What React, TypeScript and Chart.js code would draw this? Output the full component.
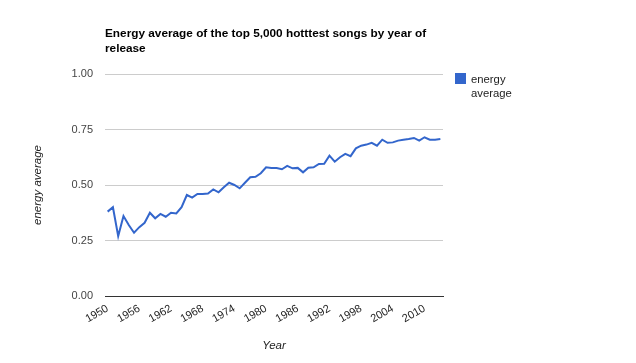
import React, { useEffect, useRef } from "react";
import { Chart, registerables } from "chart.js";

Chart.register(...registerables);

const years: string[] = [
  "1950","1951","1952","1953","1954","1955","1956","1957","1958","1959",
  "1960","1961","1962","1963","1964","1965","1966","1967","1968","1969",
  "1970","1971","1972","1973","1974","1975","1976","1977","1978","1979",
  "1980","1981","1982","1983","1984","1985","1986","1987","1988","1989",
  "1990","1991","1992","1993","1994","1995","1996","1997","1998","1999",
  "2000","2001","2002","2003","2004","2005","2006","2007","2008","2009",
  "2010","2011","2012","2013",
];

const energyAverage: number[] = [
  0.38, 0.40, 0.27, 0.36, 0.32, 0.285, 0.31, 0.33, 0.375, 0.35,
  0.37, 0.357, 0.375, 0.372, 0.40, 0.455, 0.443, 0.46, 0.46, 0.462,
  0.48, 0.467, 0.49, 0.51, 0.50, 0.485, 0.51, 0.535, 0.537, 0.553,
  0.58, 0.577, 0.577, 0.571, 0.586, 0.575, 0.577, 0.557, 0.578, 0.58,
  0.595, 0.596, 0.632, 0.605, 0.625, 0.64, 0.63, 0.665, 0.677, 0.682,
  0.69, 0.677, 0.704, 0.69, 0.692, 0.70, 0.704, 0.707, 0.712, 0.70,
  0.715, 0.704, 0.704, 0.707,
];

const yTicks: number[] = [0, 0.25, 0.5, 0.75, 1];
const titleLines: string[] = ["Energy average of the top 5,000 hotttest songs by year of", "release"];
const legendLines: string[] = ["energy", "average"];
const xTitle = "Year";
const yTitle = "energy average";

const FONT = "Arial, 'Liberation Sans', sans-serif";
const LINE_COLOR = "#3366cc";

const textPlugin = {
  id: "customText",
  afterDraw(chart: any) {
    const ctx = chart.ctx as CanvasRenderingContext2D;
    const area = chart.chartArea;
    ctx.save();
    // Title
    ctx.fillStyle = "#000";
    ctx.font = `bold 11.8px ${FONT}`;
    ctx.textAlign = "left";
    ctx.textBaseline = "alphabetic";
    titleLines.forEach((l, i) => ctx.fillText(l, area.left, 37 + i * 15));
    // Legend
    ctx.fillStyle = LINE_COLOR;
    ctx.fillRect(455, 73, 11, 11);
    ctx.fillStyle = "#222";
    ctx.font = `11.3px ${FONT}`;
    legendLines.forEach((l, i) => ctx.fillText(l, 471, 83 + i * 14));
    // X title
    ctx.font = `italic 11.5px ${FONT}`;
    ctx.textAlign = "center";
    ctx.textBaseline = "middle";
    ctx.fillText(xTitle, (area.left + area.right) / 2, 346);
    // Y title
    ctx.translate(38, (area.top + area.bottom) / 2);
    ctx.rotate(-Math.PI / 2);
    ctx.fillText(yTitle, 0, 0);
    ctx.restore();
  },
};

export default function App() {
  const ref = useRef<HTMLCanvasElement | null>(null);
  useEffect(() => {
    document.body.style.margin = "0";
    const canvas = ref.current!;
    const chart = new Chart(canvas, {
      type: "line",
      data: {
        labels: years,
        datasets: [
          {
            label: "energy average",
            data: energyAverage,
            borderColor: LINE_COLOR,
            backgroundColor: LINE_COLOR,
            borderWidth: 2,
            pointRadius: 0,
            tension: 0,
          },
        ],
      },
      options: {
        animation: false,
        responsive: false,
        devicePixelRatio: 1,
        layout: { padding: { left: 0, right: 193, top: 74, bottom: 0 } },
        plugins: {
          legend: { display: false },
          title: { display: false },
          tooltip: { enabled: false },
        },
        scales: {
          x: {
            type: "category",
            offset: true,
            grid: { display: false, drawTicks: false },
            border: { display: true, color: "#333", width: 1 },
            ticks: {
              autoSkip: false,
              minRotation: 30,
              maxRotation: 30,
              padding: 6,
              color: "#222",
              font: { family: FONT, size: 11 },
              callback: (_v: any, i: number) => (i % 6 === 0 ? years[i] : ""),
            },
            afterFit: (s: any) => {
              s.height = 67;
            },
          },
          y: {
            min: 0,
            max: 1,
            afterBuildTicks: (s: any) => {
              s.ticks = yTicks.map((v) => ({ value: v }));
            },
            grid: {
              drawTicks: false,
              color: (c: any) => (c.tick && c.tick.value === 0 ? "#333" : "#cccccc"),
            },
            border: { display: false },
            ticks: {
              padding: 12,
              color: "#444",
              font: { family: FONT, size: 11 },
              callback: (v: any) => Number(v).toFixed(2),
            },
            afterFit: (s: any) => {
              s.width = 105;
            },
          },
        },
      },
      plugins: [textPlugin],
    });
    return () => chart.destroy();
  }, []);
  return (
    <div style={{ width: 636, height: 363, background: "#fff" }}>
      <canvas ref={ref} width={636} height={363} style={{ display: "block" }} />
    </div>
  );
}
